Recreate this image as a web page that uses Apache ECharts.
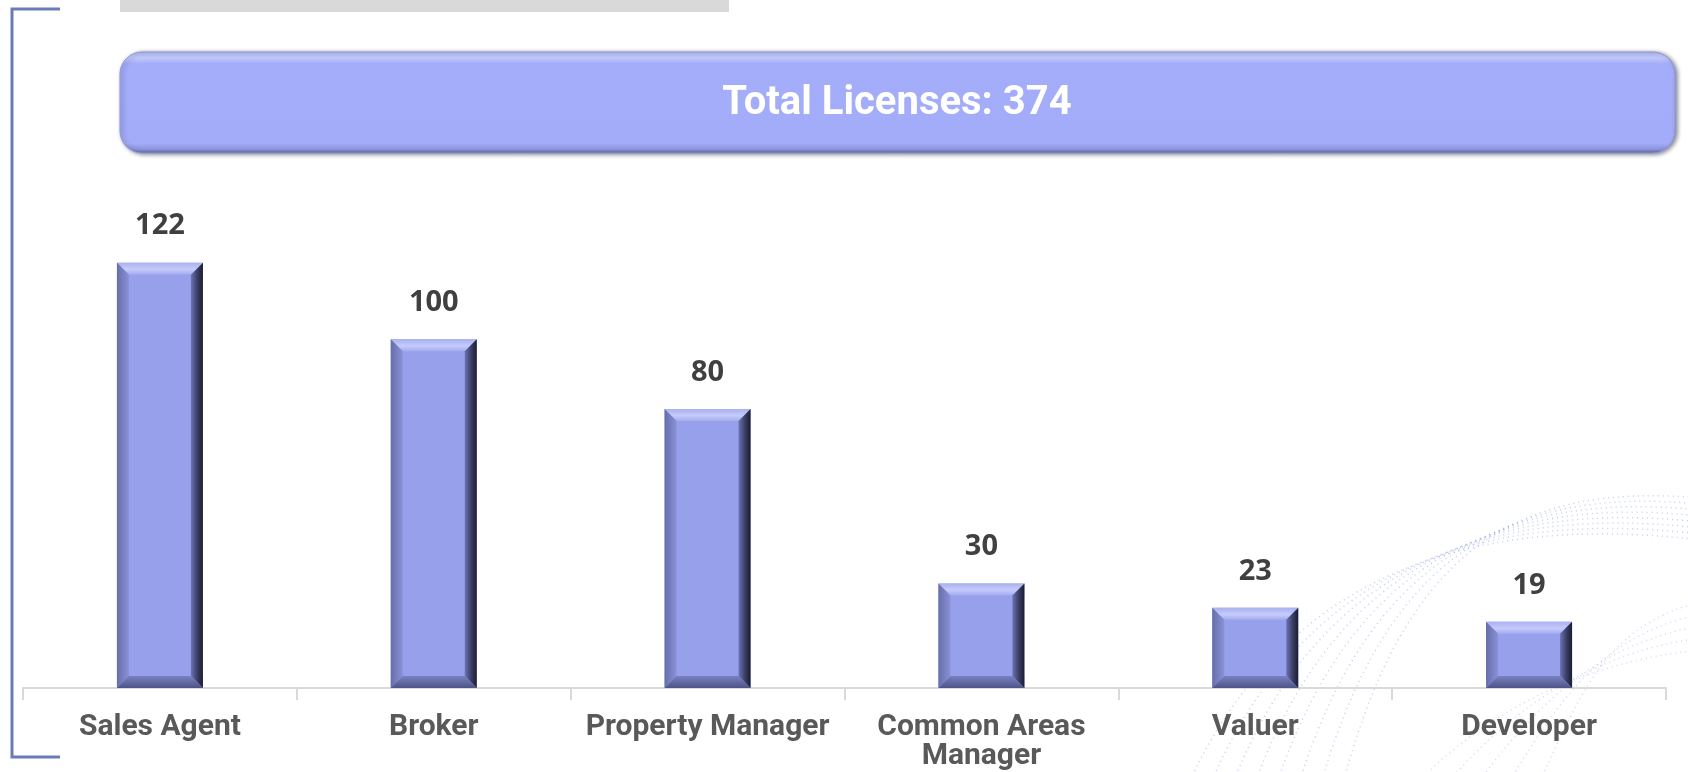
<!DOCTYPE html>
<html>
<head>
<meta charset="utf-8">
<title>Total Licenses</title>
<script src="https://cdn.jsdelivr.net/npm/echarts@6/dist/echarts.min.js"></script>
<style>
  html, body { margin: 0; padding: 0; background: #ffffff; }
  #main { width: 1688px; height: 772px; }
</style>
</head>
<body>
<div id="main"></div>
<script>
// data
const categories = ["Sales Agent", "Broker", "Property Manager", "Common Areas\nManager", "Valuer", "Developer"];
const licenses = [122, 100, 80, 30, 23, 19];
const totalLicenses = 374;

// bar look
const FACE = "#97a0ea";
const BEVEL = 12;
const BAR_RATIO = 0.314;

const myChart = echarts.init(document.getElementById("main"));

// draws the bevelled edges on top of each bar
function renderBevel(params, api) {
  const top = api.coord([api.value(0), api.value(1)]);
  const base = api.coord([api.value(0), 0]);
  const w = api.size([1, 0])[0] * BAR_RATIO;
  const x0 = top[0] - w / 2, x1 = top[0] + w / 2;
  const y0 = top[1], y1 = base[1];
  const b = Math.min(BEVEL, (y1 - y0) / 2);
  const lin = (a, c, d, e, stops) => new echarts.graphic.LinearGradient(a, c, d, e, stops);
  return {
    type: "group",
    children: [
      { // top
        type: "polygon",
        shape: { points: [[x0, y0], [x1, y0], [x1 - b, y0 + b], [x0 + b, y0 + b]] },
        style: { fill: lin(0, 0, 0, 1, [{ offset: 0, color: "#a9b1f0" }, { offset: 0.55, color: "#c5cbfa" }, { offset: 1, color: "#a3abef" }]) }
      },
      { // left
        type: "polygon",
        shape: { points: [[x0, y0], [x0 + b, y0 + b], [x0 + b, y1 - b], [x0, y1]] },
        style: { fill: lin(0, 0, 1, 0, [{ offset: 0, color: "#666ea9" }, { offset: 1, color: "#8a92d8" }]) }
      },
      { // right
        type: "polygon",
        shape: { points: [[x1, y0], [x1, y1], [x1 - b, y1 - b], [x1 - b, y0 + b]] },
        style: { fill: lin(0, 0, 1, 0, [{ offset: 0, color: "#6c73b4" }, { offset: 0.55, color: "#393d63" }, { offset: 1, color: "#1b1d2e" }]) }
      },
      { // bottom
        type: "polygon",
        shape: { points: [[x0, y1], [x1, y1], [x1 - b, y1 - b], [x0 + b, y1 - b]] },
        style: { fill: lin(0, 0, 0, 1, [{ offset: 0, color: "#7a81c2" }, { offset: 1, color: "#4e5387" }]) }
      }
    ]
  };
}

// faint dotted swirl, bottom right
const swirl = [];
for (let k = 0; k < 8; k++) {
  swirl.push({
    type: "bezierCurve",
    silent: true,
    z: -1,
    shape: {
      x1: 1190 + k * 22, y1: 780,
      cpx1: 1280 + k * 18, cpy1: 590 - k * 6,
      cpx2: 1450 + k * 10, cpy2: 510 - k * 4,
      x2: 1700, y2: 540 - k * 6
    },
    style: { stroke: "rgba(110,130,220,0.4)", lineWidth: 1.5, lineDash: [1, 4], fill: null }
  });
}
for (let k = 0; k < 5; k++) {
  swirl.push({
    type: "bezierCurve",
    silent: true,
    z: -1,
    shape: {
      x1: 1420 + k * 30, y1: 780,
      cpx1: 1500 + k * 20, cpy1: 700,
      cpx2: 1600, cpy2: 660 - k * 8,
      x2: 1700, y2: 650 - k * 12
    },
    style: { stroke: "rgba(110,130,220,0.3)", lineWidth: 1.5, lineDash: [1, 4], fill: null }
  });
}

const option = {
  backgroundColor: "#ffffff",
  animation: false,
  grid: { left: 23, right: 22, top: 165, bottom: 84, containLabel: false },
  xAxis: {
    type: "category",
    data: categories,
    axisLine: { lineStyle: { color: "#d9d9d9", width: 2 } },
    axisTick: { show: true, length: 12, lineStyle: { color: "#d9d9d9", width: 2 } },
    axisLabel: {
      interval: 0,
      margin: 25,
      fontFamily: "Roboto",
      fontWeight: "bold",
      fontSize: 30,
      lineHeight: 29,
      color: "#595959"
    }
  },
  yAxis: {
    type: "value",
    min: 0,
    max: 150,
    show: false,
    splitLine: { show: false }
  },
  graphic: [
    ...swirl,
    { // bracket
      type: "polyline",
      shape: { points: [[60, 9], [12, 9], [12, 757], [60, 757]] },
      style: { stroke: "#6a7cb5", lineWidth: 3, fill: null }
    },
    { // grey strip at the top
      type: "rect",
      shape: { x: 120, y: 0, width: 609, height: 12 },
      style: { fill: "#d9d9d9" }
    },
    { // banner
      type: "rect",
      shape: { x: 120, y: 52, width: 1555, height: 101, r: 22 },
      style: {
        fill: new echarts.graphic.LinearGradient(0, 0, 0, 1, [
          { offset: 0, color: "#b7bff8" },
          { offset: 0.06, color: "#c3cafc" },
          { offset: 0.12, color: "#a4adf9" },
          { offset: 0.9, color: "#a3acf8" },
          { offset: 0.96, color: "#8c94dc" },
          { offset: 1, color: "#5f6699" }
        ]),
        stroke: "#8e96d6",
        lineWidth: 1,
        shadowBlur: 4,
        shadowOffsetX: 2,
        shadowOffsetY: 1,
        shadowColor: "rgba(30,34,60,0.55)"
      }
    },
    {
      type: "text",
      x: 897,
      y: 104,
      style: {
        text: "Total Licenses: " + totalLicenses,
        fill: "#ffffff",
        font: "bold 40px Roboto",
        textAlign: "center",
        textVerticalAlign: "middle"
      }
    }
  ],
  series: [
    {
      type: "bar",
      data: licenses,
      barWidth: (BAR_RATIO * 100) + "%",
      itemStyle: { color: FACE },
      label: {
        show: true,
        position: "top",
        distance: 22,
        fontFamily: "Open Sans",
        fontWeight: "bold",
        fontSize: 29,
        color: "#404040"
      }
    },
    {
      type: "custom",
      z: 3,
      silent: true,
      renderItem: renderBevel,
      data: licenses.map((v, i) => [i, v])
    }
  ]
};

myChart.setOption(option);
</script>
</body>
</html>
